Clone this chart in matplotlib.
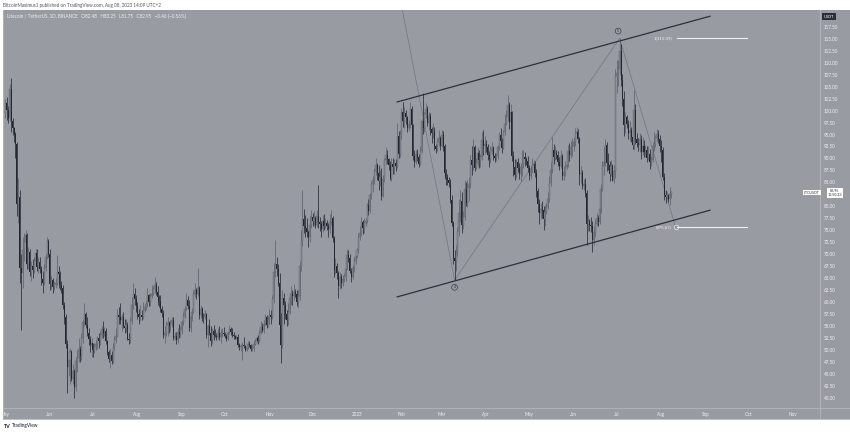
import numpy as np
import pandas as pd
import matplotlib
matplotlib.use("Agg")
import matplotlib.pyplot as plt
from matplotlib.patches import Rectangle
from matplotlib.lines import Line2D

plt.rcParams['font.family'] = ['Lato', 'DejaVu Sans']

# LTC/USDT daily candles, 2022-05-01 .. 2023-08-08 (open = previous close)
start_date = "2022-05-01"
first_open = 99.4

close = [
    # May 2022
    101.5, 100.2, 98.4, 104.6, 97.8, 96.3, 95.2, 93.0, 80.5, 82.0,
    67.2, 66.0, 70.8, 72.5, 74.0, 68.0, 70.4, 66.2, 67.6, 66.8,
    68.5, 70.2, 67.3, 68.4, 67.0, 64.8, 64.0, 67.2, 69.4, 72.8,
    70.1,
    # Jun 2022
    63.8, 64.6, 63.2, 63.8, 64.0, 66.4, 65.8, 63.6, 63.0, 59.4,
    56.8, 51.2, 46.5, 48.0, 49.5, 44.0, 45.6, 42.3, 47.8, 48.4,
    50.2, 48.8, 52.6, 55.8, 57.6, 55.2, 53.6, 52.3, 51.0, 51.4,
    # Jul 2022
    50.0, 50.6, 51.2, 52.6, 51.8, 53.2, 54.3, 53.6, 53.9, 51.8,
    49.5, 48.2, 49.0, 47.8, 50.6, 52.1, 53.0, 57.4, 57.0, 56.2,
    56.8, 55.0, 54.6, 55.3, 52.4, 52.0, 56.1, 59.5, 61.8, 60.6,
    59.1,
    # Aug 2022
    57.6, 56.8, 57.3, 57.0, 58.4, 58.9, 59.6, 61.4, 60.1, 61.2,
    61.8, 62.7, 63.5, 62.2, 61.0, 60.3, 58.6, 57.8, 53.1, 53.6,
    55.2, 55.6, 55.0, 55.4, 56.2, 52.6, 53.0, 52.0, 53.8, 53.3,
    54.2,
    # Sep 2022
    55.8, 57.2, 58.6, 60.4, 59.2, 54.6, 57.0, 57.9, 61.8, 62.6,
    61.8, 62.9, 57.4, 58.6, 57.0, 56.9, 57.5, 53.2, 55.0, 53.5,
    51.8, 54.0, 53.1, 53.0, 52.8, 53.6, 52.7, 53.5, 53.6, 53.4,
    # Oct 2022
    53.0, 52.3, 53.6, 54.4, 53.8, 53.2, 52.9, 52.6, 52.8, 51.0,
    50.6, 50.8, 51.0, 50.8, 50.1, 50.4, 51.2, 51.0, 50.2, 50.5,
    51.3, 51.9, 52.5, 51.9, 53.6, 54.8, 54.1, 55.4, 56.9, 55.3,
    56.4,
    # Nov 2022
    57.3, 56.8, 60.6, 66.4, 68.0, 66.9, 64.0, 55.2, 51.0, 60.8,
    59.4, 57.6, 56.3, 58.0, 60.9, 61.6, 61.3, 62.2, 61.8, 60.0,
    61.3, 67.5, 72.8, 77.3, 76.0, 75.4, 74.6, 73.5, 76.2, 77.8,
    # Dec 2022
    77.0, 77.5, 76.2, 78.0, 76.8, 76.4, 75.2, 77.0, 76.0, 76.5,
    75.9, 75.2, 76.8, 77.5, 73.4, 66.8, 67.6, 66.0, 63.3, 65.2,
    64.0, 64.8, 65.4, 67.0, 69.8, 69.2, 66.5, 65.3, 67.1, 68.5,
    69.6,
    # Jan 2023
    70.8, 73.6, 74.4, 76.8, 75.4, 76.5, 76.9, 80.2, 79.0, 82.4,
    84.6, 85.5, 87.4, 88.6, 87.0, 85.4, 86.2, 82.2, 85.8, 89.6,
    90.8, 89.8, 88.7, 86.0, 88.9, 88.2, 89.0, 88.5, 94.6, 91.0,
    95.2,
    # Feb 2023
    99.6, 97.8, 99.4, 98.6, 96.4, 97.2, 100.4, 97.0, 90.6, 89.2,
    91.0, 90.4, 88.9, 91.6, 97.8, 96.4, 99.2, 100.3, 97.5, 98.8,
    96.2, 95.3, 95.8, 92.6, 92.0, 93.5, 94.2, 92.6,
    # Mar 2023
    94.8, 92.6, 87.0, 86.2, 85.6, 84.9, 81.3, 76.5, 69.3, 68.6,
    70.4, 74.8, 78.6, 81.2, 76.2, 77.8, 83.6, 80.8, 83.9, 84.6,
    89.6, 88.7, 92.4, 88.1, 89.0, 91.2, 89.6, 90.3, 93.8, 92.6,
    93.0,
    # Apr 2023
    92.4, 90.8, 89.9, 91.6, 92.2, 90.6, 90.0, 90.5, 92.4, 94.8,
    93.6, 92.2, 95.5, 97.3, 98.6, 101.2, 97.6, 99.8, 90.6, 88.3,
    86.6, 89.2, 88.0, 86.8, 88.3, 88.9, 90.4, 89.8, 89.4, 88.0,
    # May 2023
    86.4, 87.8, 88.6, 88.9, 87.0, 83.2, 80.4, 78.6, 79.5, 79.2,
    77.4, 78.8, 79.9, 81.6, 84.8, 87.6, 91.8, 90.4, 91.2, 90.8,
    89.2, 88.5, 90.6, 86.4, 87.2, 88.3, 88.6, 91.5, 90.7, 92.3,
    92.6,
    # Jun 2023
    93.4, 95.3, 95.6, 94.0, 86.7, 87.0, 84.3, 84.6, 82.8, 76.4,
    77.0, 76.2, 75.8, 73.0, 74.6, 76.4, 77.5, 76.8, 79.5, 83.6,
    88.4, 89.3, 92.8, 89.0, 88.6, 86.8, 88.4, 85.6, 87.3, 107.2,
    # Jul 2023
    107.8, 108.6, 112.5, 106.3, 102.4, 97.0, 98.6, 97.3, 95.4, 95.9,
    94.4, 92.8, 100.2, 94.0, 93.2, 92.8, 94.0, 91.3, 92.6, 91.4,
    91.8, 90.2, 91.0, 89.3, 89.6, 92.5, 93.1, 94.2, 95.1, 94.0,
    92.6,
    # Aug 2023
    91.8, 86.2, 82.4, 81.9, 82.3, 81.6, 82.48, 82.95,
]

high = [
    102.5, 102.8, 101.0, 105.5, 106.8, 98.5, 96.5, 95.5, 93.5, 86.0,
    83.5, 70.0, 73.5, 74.5, 75.0, 74.5, 71.5, 71.0, 68.5, 69.0,
    69.5, 71.0, 71.2, 69.5, 69.5, 67.5, 66.5, 68.0, 70.0, 73.5,
    73.2,
    71.0, 65.5, 65.0, 64.5, 65.0, 69.8, 67.5, 66.5, 64.5, 63.5,
    60.0, 57.5, 52.0, 50.0, 50.5, 50.0, 47.0, 46.0, 48.5, 50.0,
    52.5, 50.8, 53.5, 56.5, 59.8, 58.0, 57.0, 54.5, 53.0, 52.5,
    51.5, 51.5, 52.0, 53.0, 53.5, 54.0, 55.0, 56.0, 54.8, 54.5,
    52.0, 50.0, 50.5, 49.8, 51.5, 53.0, 54.5, 58.5, 59.0, 59.8,
    57.5, 58.0, 56.5, 56.5, 55.8, 53.5, 56.8, 61.0, 64.0, 63.0,
    61.5,
    60.0, 58.5, 59.5, 58.3, 60.0, 59.8, 60.2, 63.0, 61.8, 62.0,
    63.5, 63.3, 65.2, 64.2, 63.3, 61.5, 61.5, 59.3, 58.4, 55.0,
    56.0, 56.8, 56.0, 56.3, 57.0, 57.0, 53.8, 53.8, 54.6, 55.5,
    55.0,
    56.3, 58.0, 59.3, 62.0, 61.2, 60.5, 57.8, 58.7, 62.5, 64.0,
    63.0, 67.1, 63.3, 59.5, 59.0, 57.8, 58.3, 57.8, 55.5, 56.5,
    55.0, 54.6, 55.2, 54.3, 53.5, 54.5, 55.0, 54.3, 54.5, 54.8,
    53.8, 53.4, 54.0, 55.3, 54.8, 54.5, 53.8, 53.2, 53.2, 53.4,
    51.5, 51.3, 51.6, 52.7, 51.0, 50.8, 51.8, 51.8, 51.3, 51.0,
    52.0, 52.4, 53.0, 53.2, 54.2, 56.0, 55.7, 56.2, 57.6, 57.4,
    57.1,
    58.5, 58.4, 61.5, 68.2, 72.9, 69.5, 68.0, 66.0, 57.8, 62.5,
    62.0, 60.2, 58.3, 59.8, 62.0, 63.3, 62.5, 63.8, 62.8, 62.5,
    62.5, 68.5, 75.0, 83.4, 79.5, 78.2, 77.5, 75.0, 78.0, 79.3,
    78.6, 79.0, 78.0, 79.2, 84.4, 77.8, 77.0, 78.2, 78.5, 77.5,
    77.2, 76.5, 78.5, 79.2, 78.0, 73.8, 69.3, 68.2, 66.5, 66.3,
    65.8, 65.7, 66.0, 68.0, 71.0, 70.9, 70.0, 67.2, 67.8, 69.5,
    70.8,
    71.4, 74.5, 75.9, 77.7, 77.2, 77.5, 77.6, 80.7, 81.5, 82.8,
    85.3, 86.3, 88.0, 90.0, 89.0, 88.7, 87.6, 88.0, 86.5, 90.1,
    92.4, 91.8, 90.0, 89.5, 90.0, 90.2, 89.9, 89.9, 97.4, 95.7,
    96.0,
    100.5, 101.8, 100.7, 100.2, 98.8, 98.0, 101.7, 100.9, 97.3, 91.8,
    91.7, 92.0, 91.0, 92.6, 98.3, 103.6, 99.8, 101.5, 100.9, 99.8,
    99.5, 96.5, 97.4, 96.6, 93.0, 94.2, 96.0, 94.7,
    96.0, 95.8, 93.0, 87.8, 86.8, 86.2, 85.8, 82.3, 77.0, 70.8,
    72.0, 75.6, 81.5, 83.4, 83.0, 79.0, 85.5, 85.0, 85.5, 86.2,
    90.8, 92.5, 94.0, 92.8, 90.2, 92.4, 91.8, 91.0, 95.5, 96.0,
    94.6,
    93.8, 93.0, 91.6, 92.6, 93.5, 92.6, 91.2, 91.2, 92.9, 95.5,
    96.3, 94.3, 96.0, 99.3, 100.2, 103.2, 101.8, 101.3, 99.9, 91.6,
    89.8, 89.9, 90.0, 89.1, 89.0, 91.8, 91.7, 91.4, 90.3, 90.6,
    88.6, 88.5, 90.0, 89.6, 89.5, 87.8, 83.8, 81.5, 80.6, 81.2,
    80.0, 80.3, 80.6, 82.9, 86.3, 89.2, 94.5, 93.0, 92.5, 91.8,
    91.5, 90.3, 91.8, 90.9, 88.4, 89.4, 90.0, 92.8, 93.2, 93.6,
    94.3,
    94.5, 96.3, 96.5, 96.2, 94.4, 88.5, 87.6, 85.8, 85.9, 83.5,
    78.2, 77.4, 77.8, 77.0, 75.8, 77.3, 78.6, 78.2, 80.0, 84.6,
    89.5, 92.5, 94.0, 93.5, 91.2, 89.4, 89.6, 88.9, 88.6, 108.6,
    110.6, 110.5, 115.1, 114.0, 107.6, 104.0, 99.6, 99.0, 98.0, 97.8,
    96.5, 95.6, 104.3, 101.4, 95.3, 94.2, 95.3, 94.8, 94.4, 93.8,
    92.8, 92.5, 92.5, 91.9, 90.6, 93.5, 95.5, 95.0, 96.1, 96.0,
    94.8,
    93.8, 92.4, 87.0, 83.5, 82.9, 82.6, 84.0, 83.25,
]

low = [
    98.5, 98.0, 97.5, 97.8, 95.5, 95.0, 93.5, 90.0, 78.0, 76.5,
    64.0, 54.2, 63.0, 68.5, 70.5, 67.0, 67.0, 65.5, 64.5, 65.0,
    66.0, 67.5, 66.5, 66.0, 66.0, 63.5, 62.0, 63.5, 66.5, 69.0,
    69.5,
    62.5, 62.8, 62.0, 62.5, 63.0, 63.5, 63.0, 62.5, 62.0, 58.5,
    55.5, 50.5, 41.0, 44.5, 43.0, 43.5, 43.0, 40.0, 41.5, 45.5,
    47.5, 47.5, 48.0, 51.5, 55.0, 54.5, 53.0, 51.0, 49.5, 48.5,
    48.5, 49.3, 50.0, 50.2, 50.5, 51.0, 52.6, 52.5, 53.0, 51.2,
    49.0, 47.5, 46.2, 47.0, 47.2, 50.0, 51.5, 52.8, 55.5, 55.4,
    54.0, 54.5, 53.5, 53.8, 52.0, 51.2, 51.5, 55.5, 58.5, 59.5,
    58.0,
    56.5, 55.5, 56.0, 56.3, 56.5, 58.0, 58.3, 59.0, 59.2, 59.3,
    60.8, 61.5, 62.0, 61.5, 59.5, 59.0, 58.0, 57.0, 52.5, 51.5,
    53.0, 53.0, 53.5, 54.0, 54.8, 52.0, 52.2, 51.2, 51.5, 52.5,
    52.8,
    53.3, 55.2, 56.6, 58.3, 58.6, 54.0, 53.8, 56.0, 57.7, 61.0,
    60.6, 61.3, 56.5, 56.7, 56.1, 55.7, 56.4, 52.6, 50.6, 53.1,
    50.8, 51.2, 52.2, 52.7, 52.1, 52.3, 52.0, 51.5, 52.7, 53.0,
    52.5, 51.8, 52.1, 53.3, 53.2, 52.8, 52.4, 52.3, 52.3, 50.6,
    50.0, 49.8, 47.9, 50.5, 49.8, 49.8, 50.2, 50.6, 49.7, 49.8,
    49.9, 51.0, 51.5, 51.3, 51.6, 53.3, 53.8, 53.6, 55.0, 54.6,
    54.9,
    55.5, 55.4, 56.5, 59.8, 65.3, 65.5, 63.3, 52.8, 47.2, 50.5,
    55.5, 56.5, 55.0, 55.2, 57.6, 59.4, 59.5, 60.5, 61.0, 59.2,
    58.8, 60.5, 66.5, 71.8, 74.5, 73.6, 73.5, 71.5, 72.5, 75.5,
    75.8, 76.0, 75.4, 75.6, 75.5, 74.8, 73.6, 74.7, 75.0, 75.4,
    75.0, 73.5, 74.5, 76.1, 72.6, 65.2, 65.8, 64.8, 60.8, 62.7,
    63.0, 63.4, 64.2, 64.5, 66.8, 68.3, 66.0, 64.2, 64.8, 66.3,
    68.0,
    69.3, 70.2, 73.0, 73.8, 74.3, 74.5, 75.9, 76.5, 78.3, 78.6,
    81.6, 83.0, 84.7, 86.6, 85.6, 83.4, 84.3, 81.3, 81.9, 85.0,
    88.8, 88.9, 87.6, 85.5, 85.3, 86.8, 86.8, 87.4, 88.1, 90.0,
    90.4,
    94.0, 96.5, 96.3, 97.3, 95.5, 95.8, 96.4, 96.2, 89.6, 88.2,
    88.8, 89.4, 88.2, 88.6, 91.2, 95.2, 95.5, 98.4, 96.8, 96.0,
    94.8, 93.3, 94.3, 91.8, 91.2, 91.6, 92.6, 91.8,
    92.3, 91.5, 85.8, 84.5, 84.4, 84.0, 80.6, 75.8, 68.0, 64.6,
    66.5, 69.6, 73.9, 76.8, 74.4, 75.3, 77.2, 80.0, 79.8, 81.2,
    83.9, 86.5, 87.6, 87.3, 87.8, 88.4, 88.0, 88.2, 89.6, 90.8,
    91.0,
    91.4, 89.6, 88.3, 89.0, 90.9, 89.7, 89.2, 89.4, 89.8, 91.8,
    92.8, 91.2, 91.9, 94.9, 97.0, 97.8, 96.2, 96.8, 89.4, 86.3,
    85.5, 85.9, 87.2, 85.8, 85.4, 86.3, 88.1, 88.5, 88.6, 87.2,
    85.5, 85.8, 87.0, 87.5, 86.2, 82.0, 78.8, 76.3, 77.4, 77.6,
    75.0, 76.0, 78.4, 79.4, 81.0, 84.2, 86.9, 88.9, 89.6, 89.8,
    88.4, 87.6, 88.0, 85.6, 85.5, 86.4, 87.8, 88.3, 89.4, 90.0,
    90.6,
    91.5, 92.6, 94.6, 93.2, 84.4, 84.8, 83.6, 83.4, 82.0, 71.9,
    74.8, 74.9, 74.6, 70.4, 72.0, 73.5, 76.0, 76.0, 76.3, 78.7,
    83.2, 86.6, 88.5, 87.4, 87.6, 85.4, 86.4, 85.3, 84.9, 86.0,
    103.7, 105.2, 107.5, 105.2, 101.0, 94.7, 95.3, 96.4, 94.0, 93.6,
    93.4, 92.0, 91.8, 93.1, 92.4, 91.6, 91.3, 89.9, 90.7, 90.3,
    90.4, 89.3, 89.6, 87.8, 88.5, 89.2, 91.6, 92.3, 93.6, 93.2,
    91.3,
    89.2, 85.6, 81.4, 80.6, 81.5, 80.9, 80.3, 81.75,
]

month_starts = ["2022-05-01", "2022-06-01", "2022-07-01", "2022-08-01", "2022-09-01",
                "2022-10-01", "2022-11-01", "2022-12-01", "2023-01-01", "2023-02-01",
                "2023-03-01", "2023-04-01", "2023-05-01", "2023-06-01", "2023-07-01",
                "2023-08-01", "2023-09-01", "2023-10-01", "2023-11-01"]
month_labels = ["May", "Jun", "Jul", "Aug", "Sep", "Oct", "Nov", "Dec", "2023", "Feb",
                "Mar", "Apr", "May", "Jun", "Jul", "Aug", "Sep", "Oct", "Nov"]

# drawings (date, price)
upper_channel = [("2023-01-29", 101.8), ("2023-09-04", 119.7)]
lower_channel = [("2023-01-29", 61.1), ("2023-09-04", 79.2)]
wave_path = [("2023-02-01", 122.0), ("2023-03-10", 64.6), ("2023-07-03", 115.1), ("2023-08-11", 75.7)]
wave_labels = [("2023-03-10", 63.1, "4"), ("2023-07-02", 116.6, "5")]
fib_names = ["1(115.09)", "0(75.67)"]
fib_prices = [115.09, 75.67]
fib_span = ("2023-08-12", "2023-09-30")
last_price = 82.95

REF = pd.Timestamp("2023-01-01")
W, H = 850, 434
PANEL = "#999ba3"
LINE = "#b4b6bd"
TXT = "#f0f1f4"


def dnum(s):
    return (pd.Timestamp(s) - REF).days


def fx(x):
    return x / W


def fy(y):
    return 1 - y / H


fig = plt.figure(figsize=(W / 100, H / 100), dpi=100)
fig.patch.set_facecolor("white")
fig.patches.append(Rectangle((fx(3), fy(419)), fx(847), 409 / H, transform=fig.transFigure,
                             facecolor=PANEL, edgecolor="none", zorder=-2))

ax = fig.add_axes([fx(3), fy(408), fx(817), 398 / H])
ax.set_facecolor("none")
for s in ax.spines.values():
    s.set_visible(False)

n = len(close)
days = np.array([(pd.Timestamp(start_date) - REF).days + i for i in range(n)])
c = np.array(close)
o = np.concatenate([[first_open], c[:-1]])
hi = np.maximum(np.array(high), np.maximum(o, c))
lo = np.minimum(np.array(low), np.minimum(o, c))
up = c >= o

# candles: light-grey up, dark down
ax.vlines(days[up], lo[up], hi[up], color="#5f626c", lw=0.55, zorder=2)
ax.vlines(days[~up], lo[~up], hi[~up], color="#262a35", lw=0.55, zorder=2)
body_h = np.maximum(np.abs(c - o), 0.08)
body_b = np.minimum(o, c)
ax.bar(days[up], body_h[up], bottom=body_b[up], width=0.7, color="#8c8f99",
       edgecolor="#5f626c", linewidth=0.3, zorder=3)
ax.bar(days[~up], body_h[~up], bottom=body_b[~up], width=0.7, color="#232732",
       linewidth=0, zorder=3)

# channel lines
for line in (upper_channel, lower_channel):
    ax.plot([dnum(p[0]) for p in line], [p[1] for p in line], color="#2e313a", lw=0.9, zorder=4)

# wave path
ax.plot([dnum(p[0]) for p in wave_path], [p[1] for p in wave_path], color="#72757f", lw=0.5, zorder=1)
for d, p, t in wave_labels:
    ax.text(dnum(d), p, t, fontsize=2.6, color="#33363f", ha="center", va="center", zorder=5,
            bbox=dict(boxstyle="circle,pad=0.25", fc="none", ec="#33363f", lw=0.45))

# fib levels
for name, p in zip(fib_names, fib_prices):
    ax.plot([dnum(fib_span[0]), dnum(fib_span[1])], [p, p], color="#eef0f3", lw=0.8, zorder=4)
    ax.text(dnum(fib_span[0]) - 3.5, p, name, fontsize=3.2, color=TXT, ha="right", va="center", zorder=5)
ax.plot(dnum("2023-08-11"), fib_prices[1], marker="o", ms=3.3, mfc="none", mec="#e6e8ec", mew=0.5, zorder=5)

ax.set_xlim((3 - 357) / 1.435, (820 - 357) / 1.435)
ax.set_ylim(37.9, 121.0)

# price scale (the tick hidden under the last-price box is left blank)
ax.yaxis.tick_right()
yt = np.arange(40, 117.6, 2.5)
ax.set_yticks(yt)
ax.set_yticklabels(["" if abs(v - last_price) < 1.5 else f"{v:.2f}" for v in yt])
ax.tick_params(axis="y", length=0, pad=2.5, labelsize=3.3, labelcolor=TXT)
ax.set_xticks([dnum(m) for m in month_starts])
ax.set_xticklabels(month_labels)
ax.tick_params(axis="x", length=0, pad=3.2, labelsize=3.3, labelcolor=TXT)

# separators
for xs, ys in [([fx(820), fx(820)], [fy(10), fy(419)]),
               ([fx(3), 1], [fy(408), fy(408)]),
               ([fx(3), 1], [fy(419), fy(419)]),
               ([fx(3), fx(3)], [fy(10), fy(419)])]:
    fig.add_artist(Line2D(xs, ys, color=LINE, lw=0.6))

# header / legend / labels
fig.text(fx(3), fy(5), "BitcoinMaximus1 published on TradingView.com, Aug 08, 2023 14:09 UTC+2",
         fontsize=3.3, color="#50535e", va="center")
fig.text(fx(7), fy(16.5), "Litecoin / TetherUS, 1D, BINANCE   O82.48   H83.25   L81.75   C82.95   \u22120.46 (\u22120.56%)",
         fontsize=3.3, color=TXT, va="center")
fig.text(fx(829), fy(16.5), "USDT", fontsize=2.8, color="white", ha="center", va="center",
         bbox=dict(boxstyle="square,pad=0.35", fc="#2a2e39", ec="none"))
fig.text(fx(812), fy(192.5), "LTCUSDT", fontsize=2.6, color="#2a2e39", ha="center", va="center",
         bbox=dict(boxstyle="square,pad=0.2", fc="white", ec="none"))
fig.text(fx(835), fy(193), "82.95\n11:50:23", fontsize=2.6, color="#2a2e39", ha="center", va="center",
         linespacing=1.0, bbox=dict(boxstyle="square,pad=0.2", fc="white", ec="none"))
fig.text(fx(4), fy(426), "TV", fontsize=3.8, color="#131722", fontweight="bold", va="center")
fig.text(fx(12), fy(426), "TradingView", fontsize=3.4, color="#131722", va="center")

fig.savefig("out.png", dpi=100, facecolor="white")
